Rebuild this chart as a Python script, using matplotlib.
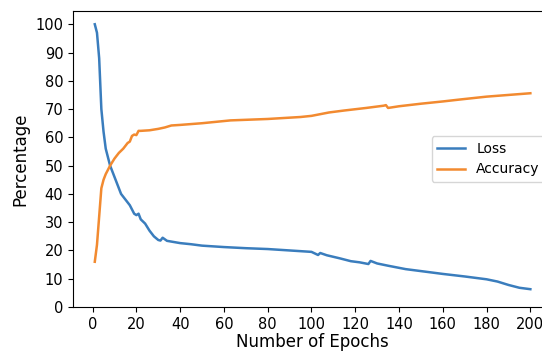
import matplotlib

matplotlib.use("Agg")
import matplotlib.pyplot as plt

plt.rcParams.update({"xtick.labelsize": 10.5, "ytick.labelsize": 10.5})

# values
loss_epochs = [1, 2, 3, 4, 5, 6, 7, 8, 10, 12, 13, 15, 17, 19, 20, 21, 22, 24, 26,
               28, 30, 31, 32, 34, 37, 40, 45, 50, 60, 70, 80, 90, 100, 103, 104,
               107, 113, 118, 122, 126, 127, 130, 135, 143, 150, 160, 170, 180,
               185, 190, 195, 200]
loss = [100, 97, 88, 70, 62, 56, 53, 50, 46, 42, 40, 38, 36, 33, 32.5, 33, 31, 29.5,
        27, 25, 23.7, 23.5, 24.5, 23.4, 23.0, 22.6, 22.2, 21.7, 21.2, 20.8, 20.5,
        20.0, 19.5, 18.4, 19.1, 18.3, 17.2, 16.2, 15.8, 15.2, 16.3, 15.4, 14.6,
        13.4, 12.7, 11.7, 10.8, 9.8, 9.0, 7.8, 6.8, 6.3]

acc_epochs = [1, 2, 3, 4, 5, 6, 8, 10, 12, 14, 16, 17, 18, 19, 20, 21, 22, 24, 26,
              30, 33, 36, 40, 50, 63, 80, 95, 100, 104, 108, 115, 125, 133, 134,
              135, 140, 150, 160, 168, 180, 190, 200]
accuracy = [16, 22, 32, 42, 45, 47, 50, 52.5, 54.5, 56, 58, 58.5, 60.5, 61, 60.8,
            62.3, 62.3, 62.4, 62.5, 63.0, 63.5, 64.2, 64.4, 65.0, 66.0, 66.5,
            67.2, 67.6, 68.2, 68.8, 69.5, 70.4, 71.2, 71.4, 70.4, 71.0, 71.9,
            72.7, 73.4, 74.4, 75.0, 75.6]

fig = plt.figure(figsize=(5.42, 3.53), dpi=100)
ax = fig.add_axes([0.1347, 0.1303, 0.884, 0.8385])
ax.plot(loss_epochs, loss, label="Loss", lw=1.8, color="#3a7dbd")
ax.plot(acc_epochs, accuracy, label="Accuracy", lw=1.8, color="#f28a30")
ax.set_ylim(bottom=0)
ax.set_xticks(range(0, 201, 20))
ax.set_yticks(range(0, 101, 10))
ax.set_xlabel("Number of Epochs", fontsize=12, labelpad=1)
ax.set_ylabel("Percentage", fontsize=12)
ax.legend(loc="center right", fontsize=10)
fig.savefig("out.png", dpi=100)
